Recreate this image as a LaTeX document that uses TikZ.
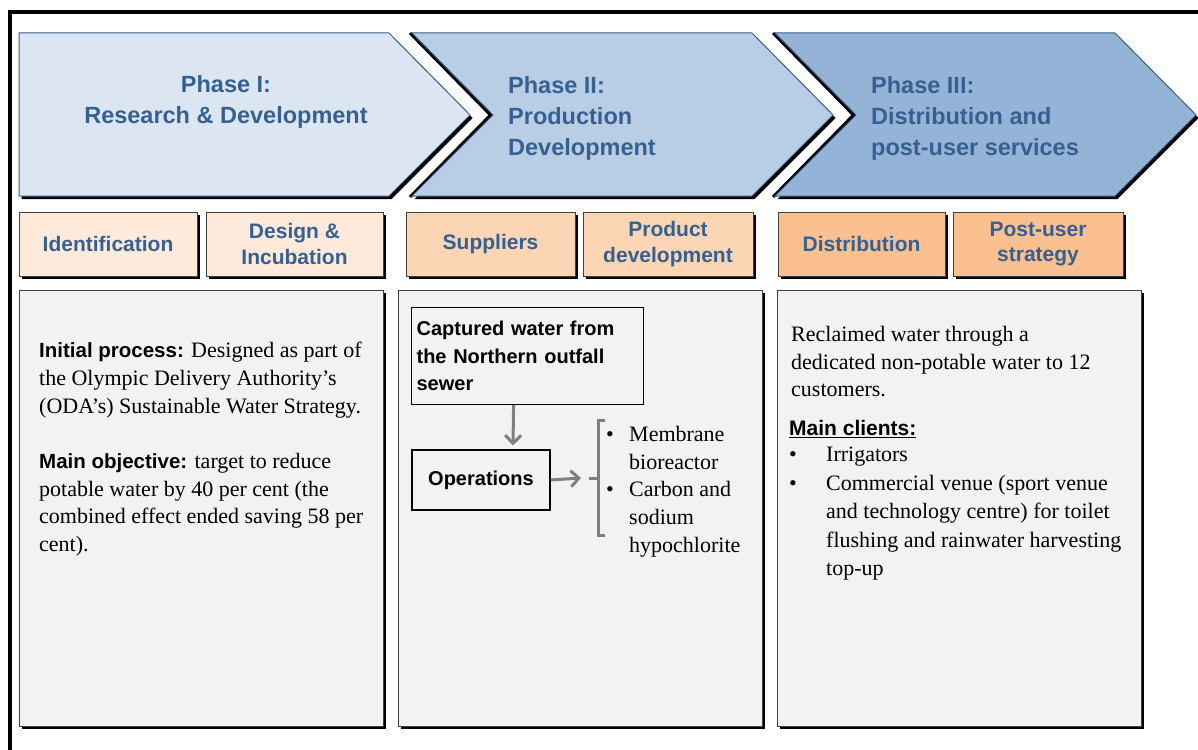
\documentclass[tikz,border=0pt]{standalone}
\usepackage{fontspec}
\setmainfont{Liberation Serif}
\setsansfont{Liberation Sans}
\usetikzlibrary{shadows,arrows.meta}
\definecolor{chevA}{HTML}{DCE6F2}
\definecolor{chevB}{HTML}{B9CDE5}
\definecolor{chevC}{HTML}{95B3D7}
\definecolor{chevline}{HTML}{385D8A}
\definecolor{headblue}{HTML}{376092}
\definecolor{subA}{HTML}{FDEADA}
\definecolor{subB}{HTML}{FCD5B5}
\definecolor{subC}{HTML}{FAC090}
\definecolor{panel}{HTML}{F2F2F2}
\definecolor{panelline}{HTML}{404040}
\definecolor{arrowgray}{HTML}{7F7F7F}
\tikzset{
  shad/.style={drop shadow={shadow xshift=2.5pt,shadow yshift=-3pt,fill=black,opacity=1}},
  chev/.style={draw=chevline,line width=1pt,shad},
  notch/.style={draw=black,line width=3pt},
  phasetext/.style={text=headblue,font=\sffamily\bfseries\fontsize{23.5}{31}\selectfont,inner sep=0pt},
  subbox/.style={draw=panelline,line width=0.8pt,shad,minimum height=64pt,inner sep=2pt,align=center,
     text=headblue,font=\sffamily\bfseries\fontsize{21}{25.5}\selectfont},
  bigbox/.style={draw=panelline,line width=0.8pt,fill=panel,shad,minimum width=364pt,minimum height=436pt},
  body/.style={align=left,inner sep=0pt,anchor=north west,font=\fontsize{22}{27.7}\selectfont},
  innerbox/.style={draw=black,line width=1.2pt,fill=panel,font=\sffamily\bfseries\fontsize{20}{27.5}\selectfont},
  garrow/.style={draw=arrowgray,line width=3pt,-{Straight Barb[length=8pt,width=16pt,line width=3pt]}},
}
\newcommand{\hd}[1]{{\sffamily\bfseries\fontsize{20.5}{27.7}\selectfont #1}}
\begin{document}
\begin{tikzpicture}[x=1pt,y=-1pt]
\useasboundingbox (0,0) rectangle (1198,749);
\fill[white] (0,0) rectangle (1198,749);
\draw[line width=4pt] (10,751) -- (10,12) -- (1200,12);

% chevrons
\draw[notch] (410,33) -- (490.5,115) -- (410,197);
\draw[notch] (773,33) -- (853.5,115) -- (773,197);
\filldraw[chev,fill=chevA] (19,33) -- (389,33) -- (470,115) -- (389,196) -- (19,196) -- cycle;
\filldraw[chev,fill=chevB] (412,33) -- (752,33) -- (833,115) -- (752,196) -- (412,196) -- (493,115) -- cycle;
\filldraw[chev,fill=chevC] (775,33) -- (1115,33) -- (1196,115) -- (1115,196) -- (775,196) -- (856,115) -- cycle;

\node[phasetext,align=center] (p1) at (226,102) {Phase I:\\Research \& Development};
\node[phasetext,align=left,anchor=west] (p2) at (508,118) {Phase II:\\Production\\Development};
\node[phasetext,align=left,anchor=west] (p3) at (871,118) {Phase III:\\Distribution and\\post-user services};

% sub boxes
\node[subbox,fill=subA,minimum width=178pt] (s1) at (108,244) {Identification};
\node[subbox,fill=subA,minimum width=177pt] (s2) at (294.5,244) {Design \&\\Incubation};
\node[subbox,fill=subB,minimum width=169pt] (s3) at (490.5,244) {Suppliers};
\node[subbox,fill=subB,minimum width=170pt] (s4) at (668,244) {Product\\development};
\node[subbox,fill=subC,minimum width=167pt] (s5) at (861.5,244) {Distribution};
\node[subbox,fill=subC,minimum width=170pt] (s6) at (1038,244) {Post-user\\strategy};

% big panels
\node[bigbox] (bA) at (201,508) {};
\node[bigbox] (bB) at (580,508) {};
\node[bigbox] (bC) at (959,508) {};

% panel A text
\node[body] (tA) at (39,342) {\hd{Initial process:} Designed as part of\\
the Olympic Delivery Authority’s\\
(ODA’s) Sustainable Water Strategy.\\[27.7pt]
\hd{Main objective:} target to reduce\\
potable water by 40 per cent (the\\
combined effect ended saving 58 per\\
cent).};

% panel B
\node[innerbox,align=left,text width=222pt,inner xsep=5pt,minimum height=97pt,anchor=north west] (cap) at (411,307)
  {Captured water from\\the Northern outfall\\sewer};
\node[innerbox,minimum width=138pt,minimum height=60pt] (ops) at (481,480) {Operations};
\coordinate (br) at (598,478);
\draw[arrowgray,line width=3pt] ([xshift=7pt,yshift=58pt]br) -- ([yshift=58pt]br) -- ([yshift=-57pt]br) -- ([xshift=7pt,yshift=-57pt]br);
\draw[arrowgray,line width=3pt] (br) -- ([xshift=-9pt]br);
\draw[garrow] ([xshift=-14pt]cap.south) -- ([xshift=32pt,yshift=4pt]ops.north);
\draw[garrow] (ops.east) -- ([xshift=-17pt]br);
\node[body] (tB) at (606,426) {\makebox[23pt][l]{\textbullet}Membrane\\
\hspace*{23pt}bioreactor\\
\makebox[23pt][l]{\textbullet}Carbon and\\
\hspace*{23pt}sodium\\
\hspace*{23pt}hypochlorite};

% panel C
\node[body] (tC1) at (791,326) {Reclaimed water through a\\
dedicated non-potable water to 12\\
customers.};
\node[body,font=\sffamily\bfseries\fontsize{21}{27.5}\selectfont] (tC2) at (789,420) {\underline{Main clients:}};
\node[body,font=\fontsize{22}{28.5}\selectfont] (tC3) at (789,447) {\makebox[37pt][l]{\textbullet}Irrigators\\
\makebox[37pt][l]{\textbullet}Commercial venue (sport venue\\
\hspace*{37pt}and technology centre) for toilet\\
\hspace*{37pt}flushing and rainwater harvesting\\
\hspace*{37pt}top-up};
\end{tikzpicture}
\end{document}
